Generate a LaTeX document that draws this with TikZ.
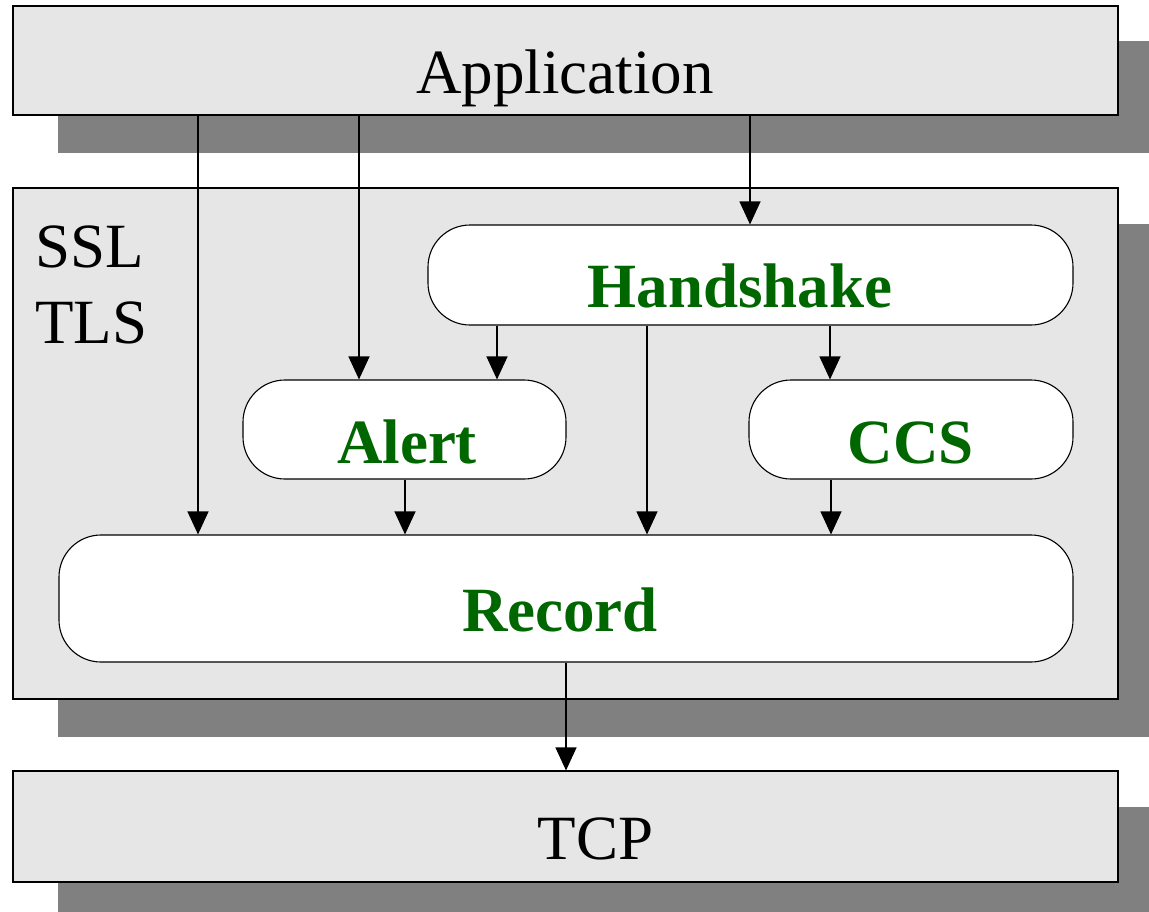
\documentclass[tikz,border=0pt]{standalone}
\usepackage{fontspec}
\setmainfont{Liberation Serif}
\usetikzlibrary{arrows.meta,backgrounds}
\definecolor{boxgray}{HTML}{E6E6E6}
\definecolor{shadowgray}{HTML}{808080}
\definecolor{labelgreen}{HTML}{006600}
\begin{document}
\begin{tikzpicture}[x=1pt,y=-1pt,
  layerbox/.style={draw=black, line width=1.1pt, fill=boxgray, rectangle, inner sep=0pt},
  shadowbox/.style={fill=shadowgray, draw=none},
  protobox/.style={draw=black, line width=1.1pt, fill=white, rectangle, rounded corners=42pt, inner sep=0pt},
  plaintext/.style={font=\fontsize{63}{63}\selectfont, anchor=base, inner sep=0pt, text=black},
  prototext/.style={font=\fontsize{63}{63}\selectfont\bfseries, anchor=base, inner sep=0pt, text=labelgreen},
  flow/.style={line width=1.1pt, draw=black, -{Triangle[length=23pt,width=21pt]}}]
\useasboundingbox (0,0) rectangle (1149,911);

% layer boxes
\node[layerbox, minimum width=1105pt, minimum height=109pt] (app) at (565.5,60.5) {};
\node[layerbox, minimum width=1105pt, minimum height=511pt] (ssl) at (565.5,443.5) {};
\node[layerbox, minimum width=1105pt, minimum height=111pt] (tcp) at (565.5,826.5) {};

% shadows
\begin{scope}[on background layer]
  \clip (0,0) rectangle (1149,911);
  \fill[shadowbox] ([shift={(46,36)}]app.north west) rectangle ([shift={(46,37)}]app.south east);
  \fill[shadowbox] ([shift={(46,37)}]ssl.north west) rectangle ([shift={(46,37)}]ssl.south east);
  \fill[shadowbox] ([shift={(46,37)}]tcp.north west) rectangle ([shift={(46,37)}]tcp.south east);
\end{scope}

% protocol boxes
\node[protobox, minimum width=645pt, minimum height=100pt] (hs) at (750.5,275) {};
\node[protobox, minimum width=323pt, minimum height=99pt] (alert) at (404.5,429.5) {};
\node[protobox, minimum width=324pt, minimum height=99pt] (ccs) at (911,429.5) {};
\node[protobox, minimum width=1014pt, minimum height=127pt] (record) at (566,598.5) {};

% texts
\node[plaintext] (apptext) at (565,93) {Application};
\node[plaintext, anchor=base west] (ssltext) at (35,267) {SSL};
\node[plaintext, anchor=base west] (tlstext) at (35,343) {TLS};
\node[plaintext] (tcptext) at (595.5,859) {TCP};
\node[prototext] (hstext) at (740,307) {Handshake};
\node[prototext] (alerttext) at (407,463) {Alert};
\node[prototext] (ccstext) at (911,463) {CCS};
\node[prototext] (recordtext) at (560,631) {Record};

% connectors
\draw[flow] (app.south -| 198,0) -- (record.north -| 198,0);
\draw[flow] (app.south -| 359,0) -- (alert.north -| 359,0);
\draw[flow] (app.south -| 750,0) -- (hs.north -| 750,0);
\draw[flow] (hs.south -| 497,0) -- (alert.north -| 497,0);
\draw[flow] (hs.south -| 647,0) -- (record.north -| 647,0);
\draw[flow] (hs.south -| 830,0) -- (ccs.north -| 830,0);
\draw[flow] (alert.south -| 405,0) -- (record.north -| 405,0);
\draw[flow] (ccs.south -| 831,0) -- (record.north -| 831,0);
\draw[flow] (record.south -| 566,0) -- (tcp.north -| 566,0);
\end{tikzpicture}
\end{document}
